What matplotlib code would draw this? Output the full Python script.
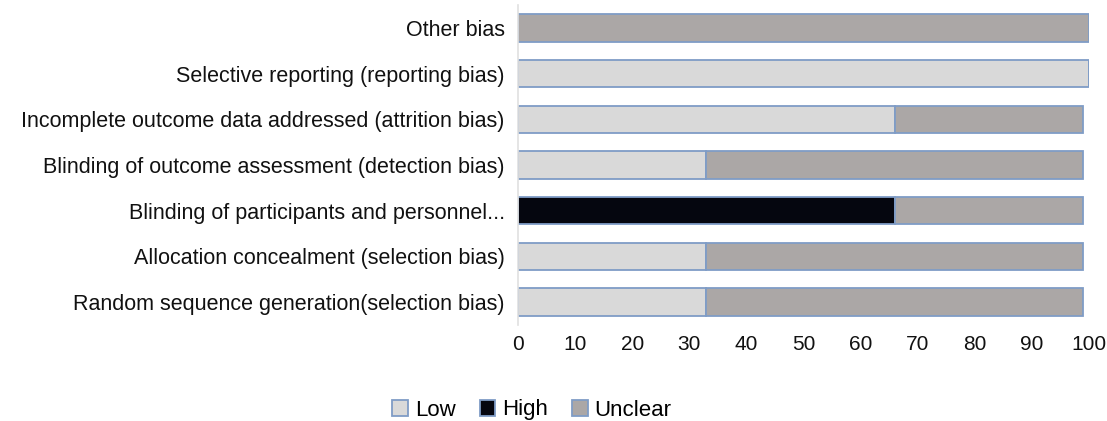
import matplotlib
matplotlib.use("Agg")
import matplotlib.pyplot as plt
import numpy as np

categories = [
    "Random sequence generation(selection bias)",
    "Allocation concealment (selection bias)",
    "Blinding of participants and personnel...",
    "Blinding of outcome assessment (detection bias)",
    "Incomplete outcome data addressed (attrition bias)",
    "Selective reporting (reporting bias)",
    "Other bias",
]
low = [33, 33, 0, 33, 66, 100, 0]
high = [0, 0, 66, 0, 0, 0, 0]
unclear = [66, 66, 33, 66, 33, 0, 100]
xticks = [0, 10, 20, 30, 40, 50, 60, 70, 80, 90, 100]

plt.rcParams['font.family'] = ['Liberation Sans', 'DejaVu Sans']

fig = plt.figure(figsize=(11.07, 4.21), dpi=100)
ax = fig.add_axes([518/1107, 1 - 325/421, (1089-518)/1107, 320/421])

y = np.arange(len(categories))
edge = '#7f9cc6'
h = 0.6
low_a = np.array(low, float)
high_a = np.array(high, float)
unc_a = np.array(unclear, float)
ax.barh(y, low_a, height=h, color='#d9d9d9', edgecolor=edge, linewidth=1.3, label='Low')
ax.barh(y, high_a, left=low_a, height=h, color='#05060f', edgecolor=edge, linewidth=1.3, label='High')
ax.barh(y, unc_a, left=low_a + high_a, height=h, color='#aba7a6', edgecolor=edge, linewidth=1.3, label='Unclear')

ax.set_xlim(0, 100)
ax.set_ylim(-0.5, len(categories) - 0.5)
ax.set_yticks(y)
ax.set_yticklabels(categories, fontsize=15.5, color='#111111')
ax.set_xticks(xticks)
ax.set_xticklabels([str(t) for t in xticks], fontsize=15, color='#111111')
ax.tick_params(axis='y', length=0, pad=9.5)
ax.tick_params(axis='x', length=0, pad=7)
for s in ['top', 'right', 'bottom']:
    ax.spines[s].set_visible(False)
ax.spines['left'].set_color('#e0e0e0')
ax.spines['left'].set_linewidth(1.2)

handles, labels = ax.get_legend_handles_labels()
fig.legend(handles, labels, loc='center', bbox_to_anchor=(532/1107, 1 - 410/421),
           ncol=3, frameon=False, fontsize=16, handlelength=0.7, handleheight=0.7,
           handletextpad=0.3, columnspacing=1.1)

fig.savefig('out.png', dpi=100)
